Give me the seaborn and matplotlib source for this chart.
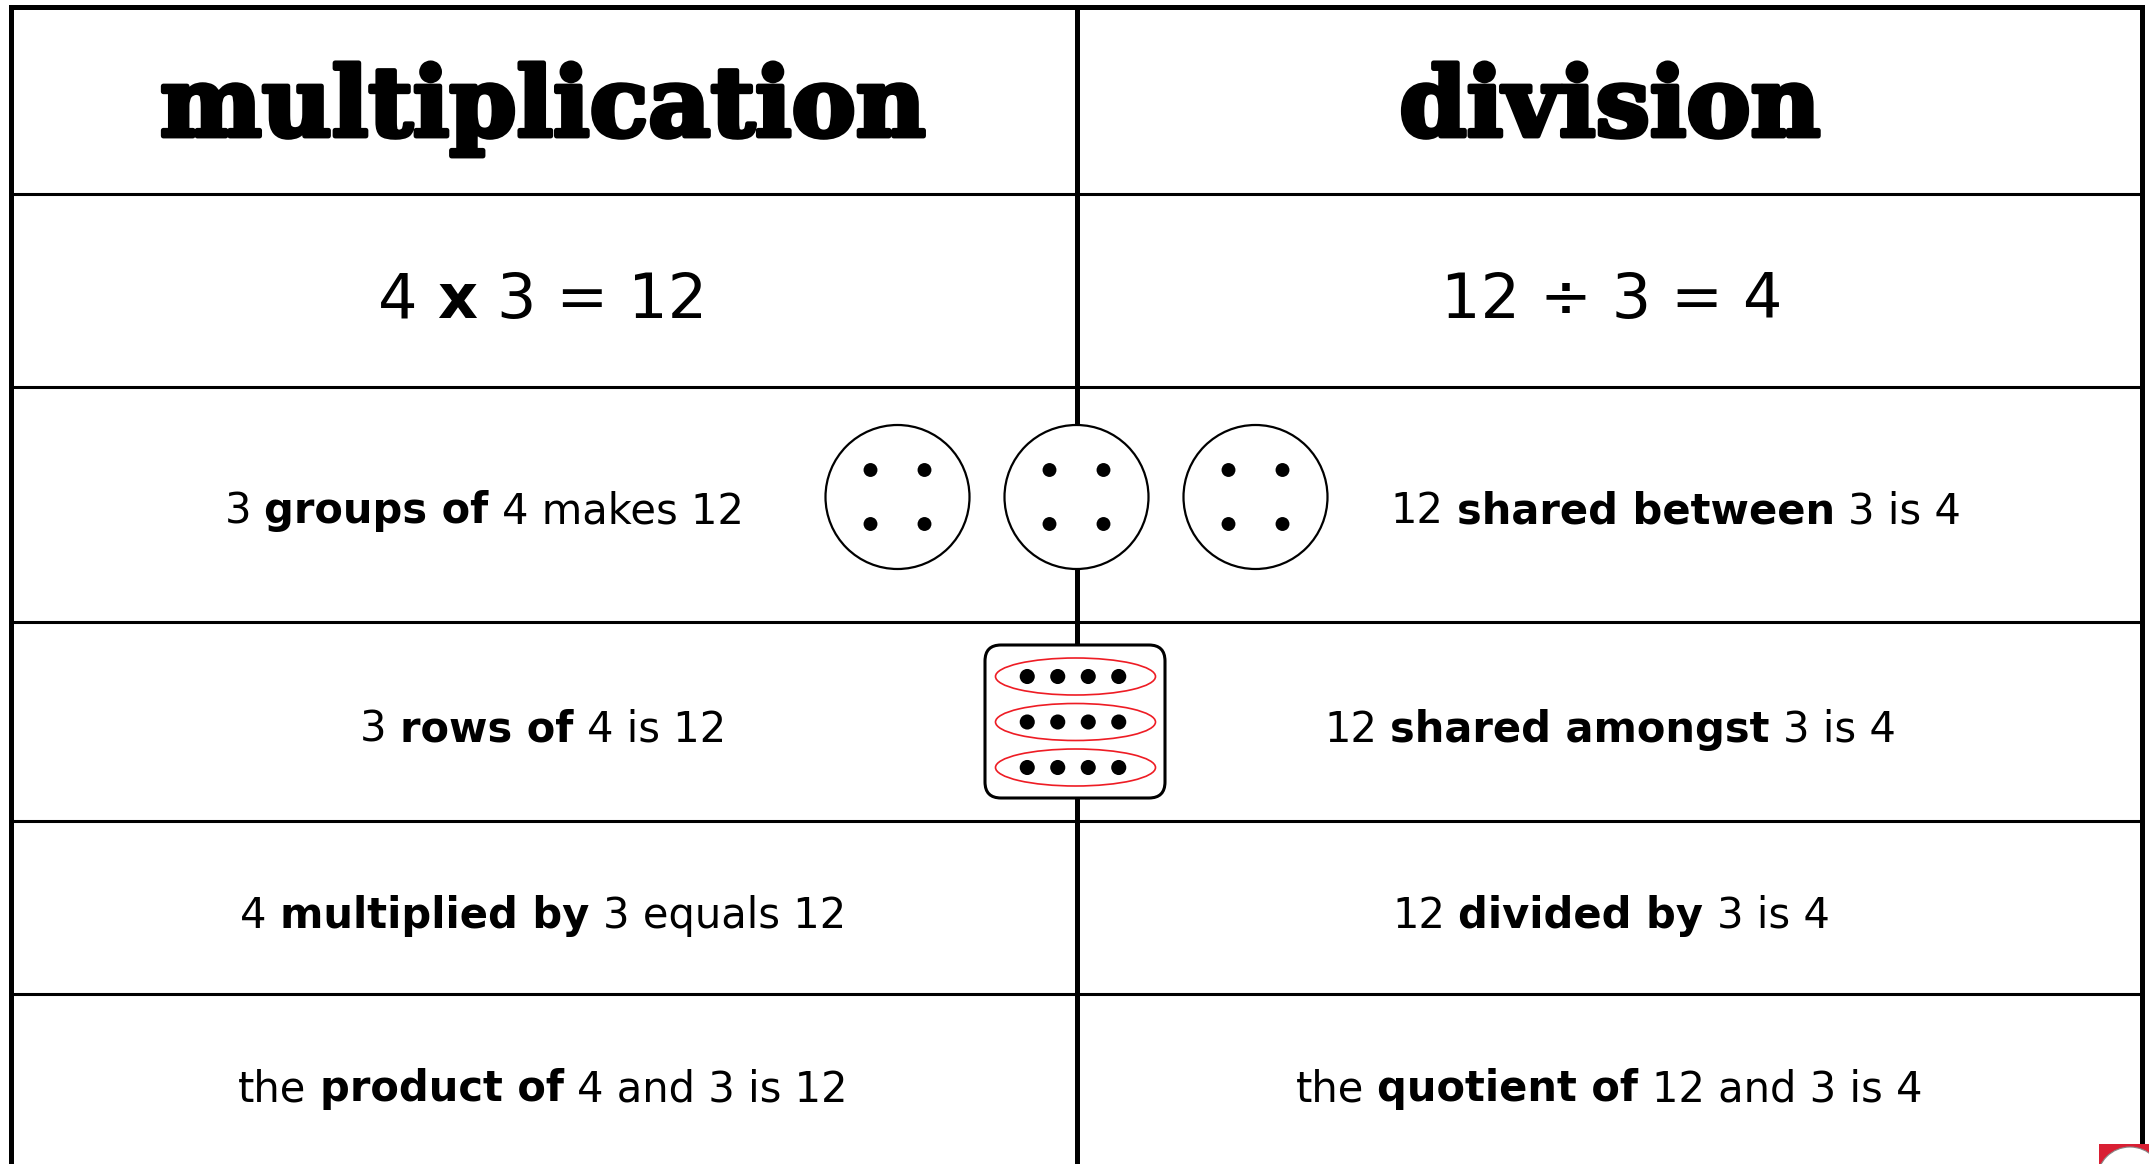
import numpy as np
import pandas as pd
import matplotlib
matplotlib.use("Agg")
import matplotlib.pyplot as plt
import matplotlib.patheffects as pe
import seaborn as sns
from matplotlib.patches import Circle, Ellipse, FancyBboxPatch, Rectangle

# ---------------- data ----------------
headers = ["multiplication", "division"]
mult_rows = [
    [("4", False), ("x", True), ("3 = 12", False)],
    [("3", False), ("groups of", True), ("4 makes 12", False)],
    [("3", False), ("rows of", True), ("4 is 12", False)],
    [("4", False), ("multiplied by", True), ("3 equals 12", False)],
    [("the", False), ("product of", True), ("4 and 3 is 12", False)],
]
div_rows = [
    [("12 ÷ 3 = 4", False)],
    [("12", False), ("shared between", True), ("3 is 4", False)],
    [("12", False), ("shared amongst", True), ("3 is 4", False)],
    [("12", False), ("divided by", True), ("3 is 4", False)],
    [("the", False), ("quotient of", True), ("12 and 3 is 4", False)],
]
n_groups = 3       # circles
per_group = 4      # dots per circle
n_rows = 3         # rows in the array
per_row = 4        # dots per row

# ---------------- figure ----------------
W, H, DPI = 2149, 1164, 100
sns.set_theme(style="white")
plt.rcParams["font.family"] = ["DejaVu Sans"]
fig = plt.figure(figsize=(W / DPI, H / DPI), dpi=DPI)
ax = fig.add_axes([0, 0, 1, 1])
ax.set_xlim(0, W)
ax.set_ylim(H, 0)
ax.axis("off")
fig.patch.set_facecolor("white")
R = fig.canvas.get_renderer()

# table geometry (pixels)
left, right, top = 10.5, 2141.5, 6.5
mid = 1076.5
hlines = [193.5, 386.5, 622, 821, 994]
outer_lw, inner_lw = 3.6, 2.2

ax.plot([left, left], [top, H + 5], color="black", lw=outer_lw, solid_capstyle="projecting", zorder=2)
ax.plot([right, right], [top, H + 5], color="black", lw=outer_lw, solid_capstyle="projecting", zorder=2)
ax.plot([left, right], [top, top], color="black", lw=outer_lw, solid_capstyle="projecting", zorder=2)
ax.plot([mid, mid], [top, H + 5], color="black", lw=outer_lw, zorder=1)
for y in hlines:
    ax.plot([left, right], [y, y], color="black", lw=inner_lw, zorder=1)

BODY = "DejaVu Sans"


def measure(parts, size, family):
    ws = []
    for s, b in parts:
        t = ax.text(0, 0, s, fontsize=size, fontweight="bold" if b else "normal", family=family)
        ws.append(t.get_window_extent(R).width)
        t.remove()
    t1 = ax.text(0, 0, "x x", fontsize=size, family=family)
    t2 = ax.text(0, 0, "xx", fontsize=size, family=family)
    sp = t1.get_window_extent(R).width - t2.get_window_extent(R).width
    t1.remove(); t2.remove()
    return ws, sp


def draw_rich(parts, cx, y, size, family, effects=None):
    ws, sp = measure(parts, size, family)
    total = sum(ws) + sp * (len(parts) - 1)
    x = cx - total / 2
    for (s, b), w in zip(parts, ws):
        t = ax.text(x, y, s, fontsize=size, fontweight="bold" if b else "normal",
                    family=family, ha="left", va="baseline", color="black", zorder=5)
        if effects:
            t.set_path_effects(effects)
        x += w + sp


def fit_size(parts, target, family, base=30.0):
    ws, sp = measure(parts, base, family)
    total = sum(ws) + sp * (len(parts) - 1)
    return base * target / total


# headers
HEAD = "DejaVu Serif"
head_targets = [750, 428]
head_centers = [543, 1610]
hs = np.mean([fit_size([(h, True)], t, HEAD) for h, t in zip(headers, head_targets)])
heavy = [pe.withStroke(linewidth=3.5, foreground="black")]
for h, cx in zip(headers, head_centers):
    draw_rich([(h, True)], cx, 136, hs, HEAD, effects=heavy)

# equations
eq_size = np.mean([fit_size(mult_rows[0], 333, BODY), fit_size(div_rows[0], 336, BODY)])
draw_rich(mult_rows[0], 543, 318, eq_size, BODY)
draw_rich(div_rows[0], 1612, 318, eq_size, BODY)

# statement rows
left_targets = [529, 351, 614, 626]
right_targets = [562, 562, 432, 633]
left_centers = [484, 543, 543, 543]
right_centers = [1676, 1610, 1611, 1609]
baselines = [523, 742, 928, 1101]
sizes = [fit_size(p, t, BODY) for p, t in zip(mult_rows[1:], left_targets)] + \
        [fit_size(p, t, BODY) for p, t in zip(div_rows[1:], right_targets)]
row_size = float(np.mean(sizes))
for parts, cx, y in zip(mult_rows[1:], left_centers, baselines):
    draw_rich(parts, cx, y, row_size, BODY)
for parts, cx, y in zip(div_rows[1:], right_centers, baselines):
    draw_rich(parts, cx, y, row_size, BODY)

# ---------------- groups (circles) ----------------
circ_cy, circ_r, circ_gap = 497, 72, 179
circ_cx = mid + (np.arange(n_groups) - (n_groups - 1) / 2) * circ_gap
side = int(np.sqrt(per_group))
off = (np.arange(side) - (side - 1) / 2) * 54
recs = []
for g, cx in enumerate(circ_cx):
    ax.add_patch(Circle((cx, circ_cy), circ_r, facecolor="white", edgecolor="black", lw=1.6, zorder=3))
    for dy in off:
        for dx in off:
            recs.append({"x": cx + dx, "y": circ_cy + dy, "kind": "group"})

# ---------------- array (rows) ----------------
box_x0, box_x1, box_y0, box_y1 = 985, 1165, 645, 798
ax.add_patch(FancyBboxPatch((box_x0 + 16, box_y0 + 16), box_x1 - box_x0 - 32, box_y1 - box_y0 - 32,
                            boxstyle="round,pad=16", facecolor="white", edgecolor="black",
                            lw=2.2, zorder=3))
row_gap, dot_gap = 45.5, 30.5
row_cy = 722 + (np.arange(n_rows) - (n_rows - 1) / 2) * row_gap
for ry in row_cy:
    ax.add_patch(Ellipse((1075.5, ry), 160, 37, facecolor="none", edgecolor="#ee1c24", lw=1.2, zorder=4))
    for j in range(per_row):
        recs.append({"x": 1073 + (j - (per_row - 1) / 2) * dot_gap, "y": ry, "kind": "row"})

dots = pd.DataFrame(recs)
sns.scatterplot(data=dots[dots.kind == "group"], x="x", y="y", s=100, color="black",
                edgecolor="none", ax=ax, zorder=6, legend=False)
sns.scatterplot(data=dots[dots.kind == "row"], x="x", y="y", s=118, color="black",
                edgecolor="none", ax=ax, zorder=6, legend=False)
ax.set_xlim(0, W)
ax.set_ylim(H, 0)
ax.axis("off")

# small logo corner bottom-right
ax.add_patch(Rectangle((2099, 1144), 60, 30, facecolor="#d91f33", edgecolor="none", zorder=7))
ax.add_patch(Circle((2130, 1180), 33, facecolor="white", edgecolor="#888888", lw=0.8, zorder=8))

fig.savefig("out.png", dpi=DPI, facecolor="white")
